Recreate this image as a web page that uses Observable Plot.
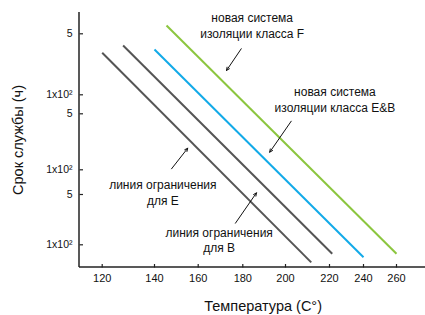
<!DOCTYPE html>
<html>
<head>
<meta charset="utf-8">
<script src="https://cdn.jsdelivr.net/npm/d3@7"></script>
<script src="https://cdn.jsdelivr.net/npm/@observablehq/plot@0.6"></script>
<style>
  html, body { margin: 0; padding: 0; background: #fff; }
  #chart svg { display: block; }
</style>
</head>
<body>
<div id="chart"></div>
<script>
// ---- data ----
const xTicks = [120, 140, 160, 180, 200, 220, 240, 260];
const yTicks = [100, 500, 1000, 5000, 10000, 50000];
const yTickLabels = ["1x10²", "5", "1x10²", "5", "1x10²", "5"];

const lineNames  = ["линия ограничения для E", "линия ограничения для B", "класс E&B", "класс F"];
const tempStart  = [120, 128, 140, 145.5];
const tempEnd    = [211.7, 221.6, 240, 260];
const lifeStart  = [30300, 36700, 33000, 62200];
const lifeEnd    = [57, 75, 67, 75];
const lineColors = ["#555555", "#555555", "#12aae8", "#8cc63f"];

const noteText = ["новая система\nизоляции класса F", "новая система\nизоляции класса E&B", "линия ограничения\nдля Е", "линия ограничения\nдля В"];
const noteTemp = [184.4, 223.2, 143.8, 169.4];
const noteLife = [63000, 8520, 540, 118];

const arrowTemp1 = [179.3, 202.6, 147.8, 176.7];
const arrowLife1 = [33700, 4043, 1029, 199.6];
const arrowTemp2 = [172.7, 192.6, 155.2, 186.4];
const arrowLife2 = [19000, 1658, 1860, 524];

// ---- tables ----
const lines = lineNames.map((n, i) => ({n, t1: tempStart[i], t2: tempEnd[i], l1: lifeStart[i], l2: lifeEnd[i], c: lineColors[i]}));
const notes = noteText.map((s, i) => ({s, t: noteTemp[i], l: noteLife[i]}));
const arrows = arrowTemp1.map((t, i) => ({t1: t, l1: arrowLife1[i], t2: arrowTemp2[i], l2: arrowLife2[i]}));
const yLabels = yTicks.map((v, i) => ({v, s: yTickLabels[i]}));

const W = 425, H = 315, ML = 79, MR = 0, MT = 12, MB = 48;

// short inward tick symbols
const tickRight = {draw(ctx) { ctx.moveTo(0, 0); ctx.lineTo(3.5, 0); }};
const tickUp = {draw(ctx) { ctx.moveTo(0, 0); ctx.lineTo(0, -3.5); }};

function axisLines(index, scales, values, dimensions) {
  const d = dimensions || {width: W, height: H, marginLeft: ML, marginTop: MT, marginBottom: MB, marginRight: MR};
  const ns = "http://www.w3.org/2000/svg";
  const g = document.createElementNS(ns, "g");
  const x0 = d.marginLeft, y0 = d.height - d.marginBottom;
  const mk = (x1, y1, x2, y2) => {
    const l = document.createElementNS(ns, "line");
    l.setAttribute("x1", x1); l.setAttribute("y1", y1);
    l.setAttribute("x2", x2); l.setAttribute("y2", y2);
    l.setAttribute("stroke", "#222"); l.setAttribute("stroke-width", 1.5);
    g.appendChild(l);
  };
  mk(x0, d.marginTop, x0, y0);
  mk(x0, y0, d.width - d.marginRight, y0);
  return g;
}

const chart = Plot.plot({
  width: W,
  height: H,
  marginLeft: ML,
  marginRight: MR,
  marginTop: MT,
  marginBottom: MB,
  style: {fontFamily: "'Liberation Sans', Arial, sans-serif", fontSize: "11px", color: "#111", background: "#fff"},
  x: {type: "linear", domain: xTicks, range: [101.7, 154, 197.7, 242.3, 285, 329, 363, 396]},
  y: {type: "log", domain: yTicks, range: [244.3, 194, 169.3, 113.3, 94.3, 33.3], axis: null},
  color: {type: "identity"},
  marks: [
    Plot.axisX({ticks: xTicks, tickSize: 0, tickPadding: 7, tickFormat: d => String(d), label: null, fontSize: 11}),
    Plot.dot(xTicks, {x: d => d, frameAnchor: "bottom", symbol: tickUp, stroke: "#222", strokeWidth: 1.2, fill: "none"}),
    Plot.dot(yTicks, {y: d => d, frameAnchor: "left", symbol: tickRight, stroke: "#222", strokeWidth: 1.2, fill: "none"}),
    Plot.text(yLabels, {y: "v", text: "s", frameAnchor: "left", dx: -7, textAnchor: "end", lineAnchor: "middle", fontSize: 10.5, fill: "#111"}),
    axisLines,
    Plot.link(lines, {x1: "t1", y1: "l1", x2: "t2", y2: "l2", stroke: "c", strokeWidth: 2}),
    Plot.arrow(arrows, {x1: "t1", y1: "l1", x2: "t2", y2: "l2", stroke: "#111", strokeWidth: 1, headLength: 5, headAngle: 50}),
    Plot.text(notes, {x: "t", y: "l", text: "s", textAnchor: "middle", lineAnchor: "middle", fontSize: 12, lineHeight: 1.3, fill: "#111"}),
    Plot.text(["Температура (С°)"], {frameAnchor: "bottom", textAnchor: "middle", dx: 10.6, dy: 39, lineAnchor: "middle", fontSize: 14.5, fill: "#111"}),
    Plot.text(["Срок службы (ч)"], {frameAnchor: "left", textAnchor: "middle", dx: -60.7, rotate: -90, lineAnchor: "middle", fontSize: 14.5, fill: "#111"})
  ]
});
document.getElementById("chart").appendChild(chart);
</script>
</body>
</html>
